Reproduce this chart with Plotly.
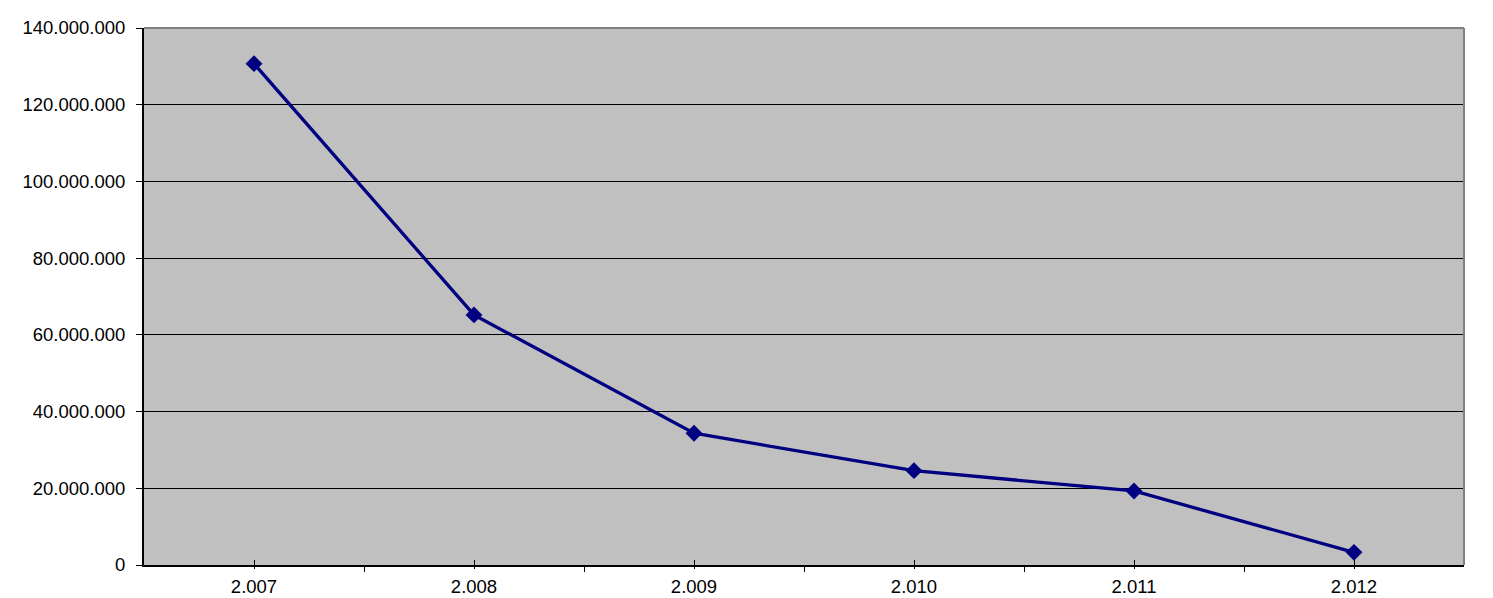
import plotly.graph_objects as go

categories = ["2.007", "2.008", "2.009", "2.010", "2.011", "2.012"]
values = [130_700_000, 65_200_000, 34_350_000, 24_600_000, 19_300_000, 3_300_000]
y_ticks = [0, 20_000_000, 40_000_000, 60_000_000, 80_000_000, 100_000_000, 120_000_000, 140_000_000]

xpos = list(range(len(categories)))
bounds = [i - 0.5 for i in range(len(categories) + 1)]

fig = go.Figure()
fig.add_trace(go.Scatter(
    x=xpos, y=values, mode="lines+markers",
    line=dict(color="#000080", width=3.3),
    marker=dict(symbol="diamond", size=13, color="#000080"),
    showlegend=False, hoverinfo="skip",
))
# invisible trace on overlay axis for crossing tick marks
fig.add_trace(go.Scatter(x=xpos, y=values, xaxis="x2", mode="markers",
                         marker=dict(opacity=0), showlegend=False, hoverinfo="skip"))

font = dict(family="Liberation Sans, Arial, sans-serif", size=18.5, color="black")

fig.update_layout(
    width=1485, height=590,
    margin=dict(l=136, r=29, t=20, b=33, autoexpand=False),
    paper_bgcolor="white",
    plot_bgcolor="#C0C0C0",
    separators=",.",
    font=font,
    xaxis=dict(
        range=[-0.5, len(categories) - 0.5],
        tickmode="array", tickvals=xpos, ticktext=categories,
        ticks="inside", ticklen=5, tickwidth=1, tickcolor="black",
        showgrid=False, zeroline=False,
        showline=True, linecolor="black", linewidth=2,
        minor=dict(tickmode="array", tickvals=bounds, ticks="outside",
                   ticklen=5, tickwidth=1, tickcolor="black", showgrid=False),
        tickfont=font, ticklabelstandoff=4, automargin=False,
    ),
    xaxis2=dict(
        overlaying="x", anchor="y", side="bottom",
        range=[-0.5, len(categories) - 0.5],
        tickmode="array", tickvals=xpos, ticks="outside", ticklen=3,
        tickwidth=1, tickcolor="black", automargin=False,
        showticklabels=False, showgrid=False, zeroline=False, showline=False,
    ),
    yaxis=dict(
        range=[0, 140_000_000],
        tickmode="array", tickvals=y_ticks, tickformat=",d",
        ticks="outside", ticklen=6, tickwidth=1, tickcolor="black",
        showgrid=True, gridcolor="black", gridwidth=1.2,
        zeroline=False,
        showline=True, linecolor="black", linewidth=2,
        tickfont=font, ticklabelstandoff=7, automargin=False,
    ),
    shapes=[
        dict(type="line", xref="paper", yref="paper", x0=0, x1=1, y0=1, y1=1,
             line=dict(color="#808080", width=2)),
        dict(type="line", xref="paper", yref="paper", x0=1, x1=1, y0=0, y1=1,
             line=dict(color="#808080", width=2)),
    ],
)

fig.write_html("out.html")
